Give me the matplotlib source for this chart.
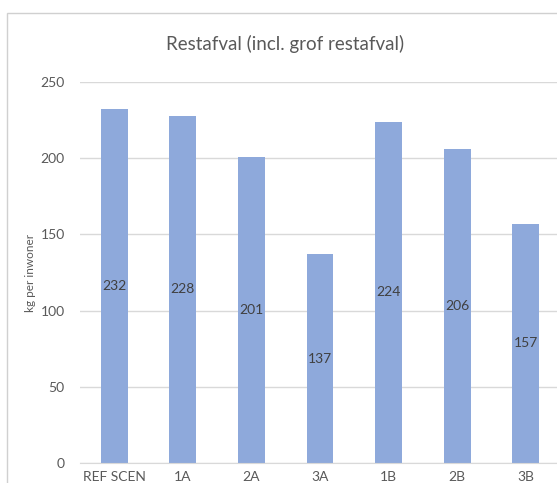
import matplotlib
matplotlib.use("Agg")
import matplotlib.pyplot as plt
from matplotlib.patches import Rectangle

plt.rcParams['font.family'] = ['Lato', 'DejaVu Sans']

# data
scenarios = ['REF SCEN', '1A', '2A', '3A', '1B', '2B', '3B']
restafval = [232, 228, 201, 137, 224, 206, 157]
yticks = [0, 50, 100, 150, 200, 250]

BAR = '#8EA9DB'
GRID = '#D9D9D9'
TXT = '#595959'

W, H = 557, 483
fig = plt.figure(figsize=(W / 100, H / 100), dpi=100)
fig.patch.set_facecolor('white')

# chart area border (cropped screenshot look)
fig.add_artist(Rectangle((7 / W, -0.1), 1.2, (H - 13) / H + 0.1,
                         transform=fig.transFigure, fill=False,
                         edgecolor='#D0D0D0', linewidth=1))

# plot area runs a little past the right edge of the picture
ax = fig.add_axes([80 / W, (H - 463) / H, 480 / W, (463 - 82) / H])
x = range(len(scenarios))
bars = ax.bar(x, restafval, width=0.39, color=BAR, zorder=2)

for b, v in zip(bars, restafval):
    ax.text(b.get_x() + b.get_width() / 2, v / 2, str(v), ha='center',
            va='center', fontsize=10, color='#404040', zorder=3)

ax.set_ylim(0, 250)
ax.set_xlim(-0.5, 6.5)
ax.set_yticks(yticks)
ax.set_xticks(list(x))
ax.set_xticklabels(scenarios)
ax.yaxis.grid(True, color=GRID, linewidth=1, zorder=0)
ax.tick_params(axis='both', length=0, labelsize=10, colors=TXT)
ax.tick_params(axis='y', pad=11)
ax.tick_params(axis='x', pad=6)
for s in ['top', 'right', 'left']:
    ax.spines[s].set_visible(False)
ax.spines['bottom'].set_color(GRID)
ax.set_ylabel('kg per inwoner', fontsize=8.5, color=TXT, labelpad=3)

fig.text(285 / W, 1 - 44 / H, 'Restafval (incl. grof restafval)',
         ha='center', va='center', fontsize=13.5, color=TXT)

fig.savefig('out.png', dpi=100)
